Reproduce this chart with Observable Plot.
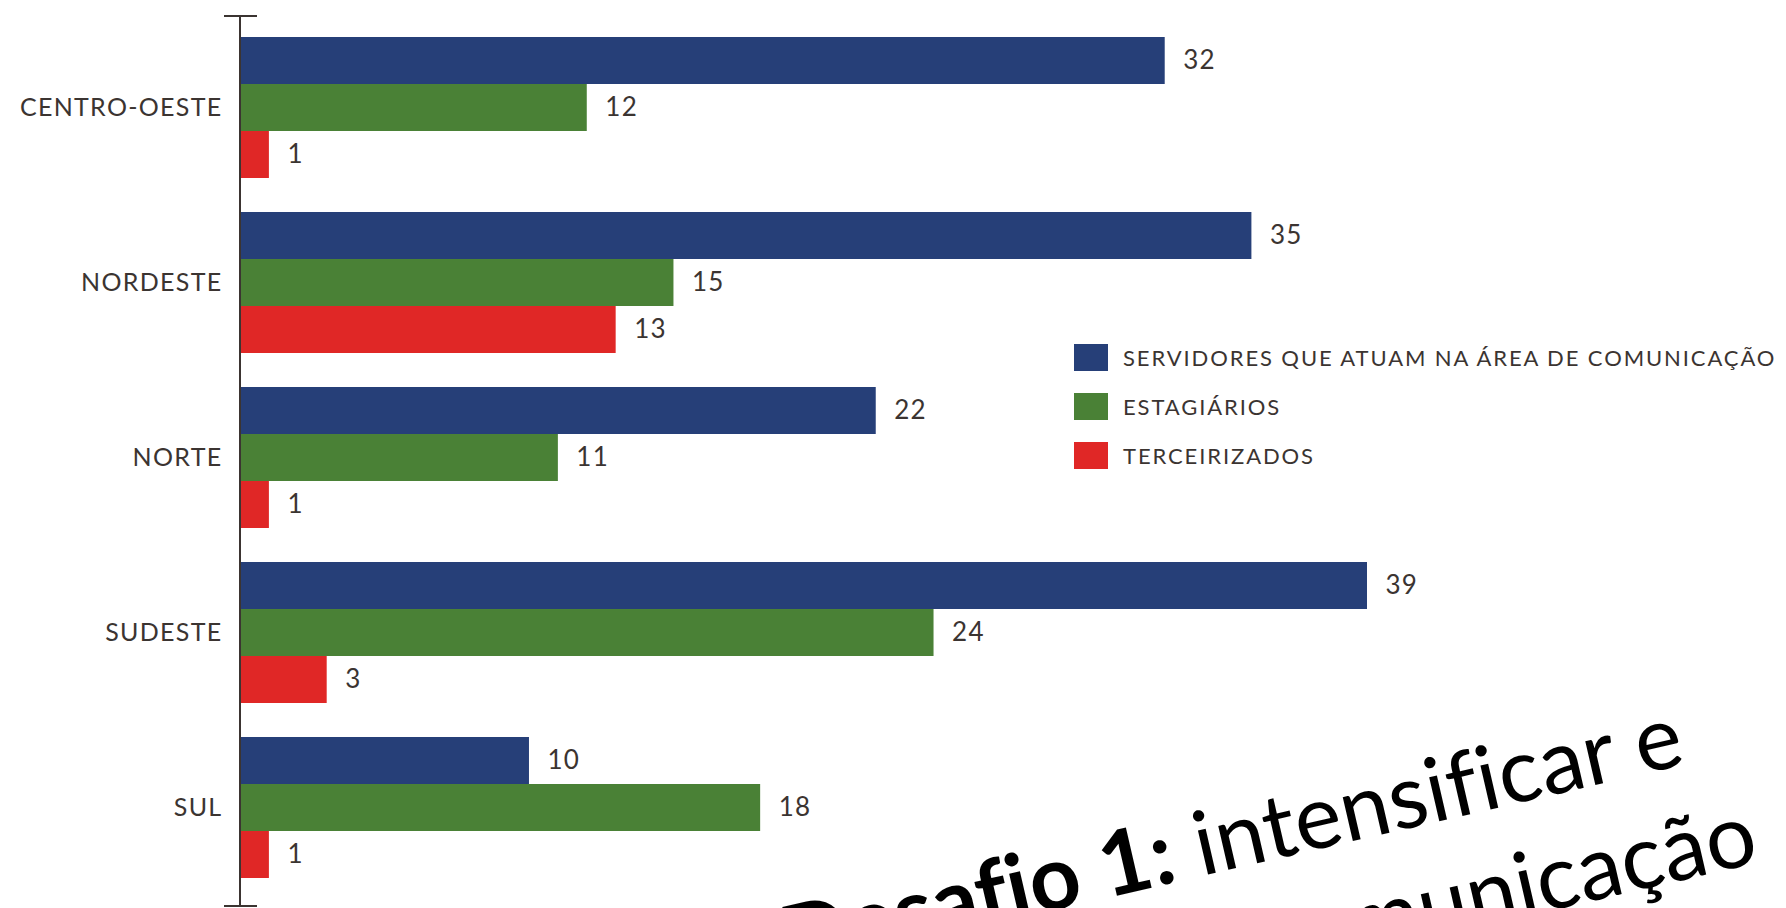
<!DOCTYPE html>
<html><head><meta charset="utf-8">
<script src="https://cdn.jsdelivr.net/npm/d3@7"></script>
<script src="https://cdn.jsdelivr.net/npm/@observablehq/plot@0.6"></script>
<style>
body{margin:0;background:#fff;}
#wrap{position:relative;width:1786px;height:908px;overflow:hidden;font-family:Lato,"Open Sans",sans-serif;color:#3b3431;}
#wrap > svg{position:absolute;left:0;top:0;}
#legend{position:absolute;left:1074px;top:344px;}
.lrow{display:flex;align-items:center;height:27px;margin-bottom:22px;}
.lsw{width:34px;height:27px;margin-right:15px;}
.ltx{font-size:22px;letter-spacing:1.9px;white-space:nowrap;}
.ovtext{font-variant-ligatures:none;font-feature-settings:"liga" 0;}
</style></head><body><div id="wrap"></div>
<script>
const regions = ["CENTRO-OESTE","NORDESTE","NORTE","SUDESTE","SUL"];
const seriesNames = ["SERVIDORES QUE ATUAM NA ÁREA DE COMUNICAÇÃO","ESTAGIÁRIOS","TERCEIRIZADOS"];
const servidores = [32,35,22,39,10];
const estagiarios = [12,15,11,24,18];
const terceirizados = [1,13,1,3,1];
const colors = ["#263f78","#4a8136","#e02726"];
const overlayLine1Bold = "Desafio 1:";
const overlayLine1 = " intensificar e";
const overlayLine2 = "comunicação";

const valuesBySeries = [servidores, estagiarios, terceirizados];
const data = [];
regions.forEach((r, i) => {
  seriesNames.forEach((s, j) => data.push({region: r, series: s, value: valuesBySeries[j][i]}));
});

const plot = Plot.plot({
  width: 1786,
  height: 908,
  marginLeft: 240,
  marginRight: 0,
  marginTop: 19,
  marginBottom: 14,
  style: {fontFamily: "Lato, sans-serif", fontSize: "25px", color: "#3b3431", background: "transparent", letterSpacing: "1.3px"},
  facet: {data, y: "region"},
  fy: {domain: regions, paddingInner: 0.19, paddingOuter: 0.095, label: null, axis: "left", tickSize: 0, tickPadding: 18},
  y: {domain: seriesNames, padding: 0, axis: null},
  x: {domain: [0, 53.5], axis: null},
  color: {domain: seriesNames, range: colors},
  marks: [
    Plot.barX(data, {y: "series", x: "value", fill: "series"}),
    Plot.text(data, {y: "series", x: "value", text: d => String(d.value), textAnchor: "start", dx: 18, fill: "#3b3431", fontSize: 26})
  ]
});

const wrap = document.getElementById("wrap");
wrap.appendChild(plot);

// decorative vertical axis line with end ticks
const x0 = plot.scale("x").apply(0);
const svg = d3.select(plot);
const g = svg.append("g").attr("stroke", "#3b3431").attr("stroke-width", 2);
g.append("line").attr("x1", x0).attr("x2", x0).attr("y1", 16).attr("y2", 906);
g.append("line").attr("x1", x0 - 16).attr("x2", x0 + 17).attr("y1", 16).attr("y2", 16);
g.append("line").attr("x1", x0 - 16).attr("x2", x0 + 17).attr("y1", 906).attr("y2", 906);

// legend
const legend = document.createElement("div");
legend.id = "legend";
seriesNames.forEach((s, j) => {
  const row = document.createElement("div");
  row.className = "lrow";
  const sw = document.createElement("div");
  sw.className = "lsw";
  sw.style.background = colors[j];
  const tx = document.createElement("div");
  tx.className = "ltx";
  tx.textContent = s;
  row.appendChild(sw); row.appendChild(tx);
  legend.appendChild(row);
});
wrap.appendChild(legend);

// overlay slide text (rotated, partly cut off by the page edge)
const ov = d3.select(wrap).append("svg")
  .attr("width", 1786).attr("height", 908)
  .attr("class", "ovtext")
  .style("position", "absolute").style("left", 0).style("top", 0)
  .style("font-family", "Lato, sans-serif").style("font-size", "89px");
const t1 = ov.append("text")
  .attr("text-anchor", "end")
  .attr("transform", "translate(1687,764) rotate(-13)")
  .attr("fill", "#000");
t1.append("tspan").attr("font-weight", "bold").text(overlayLine1Bold);
t1.append("tspan").text(overlayLine1);
ov.append("text")
  .attr("text-anchor", "end")
  .attr("transform", "translate(1761,862) rotate(-13)")
  .attr("fill", "#000")
  .text(overlayLine2);
</script></body></html>
